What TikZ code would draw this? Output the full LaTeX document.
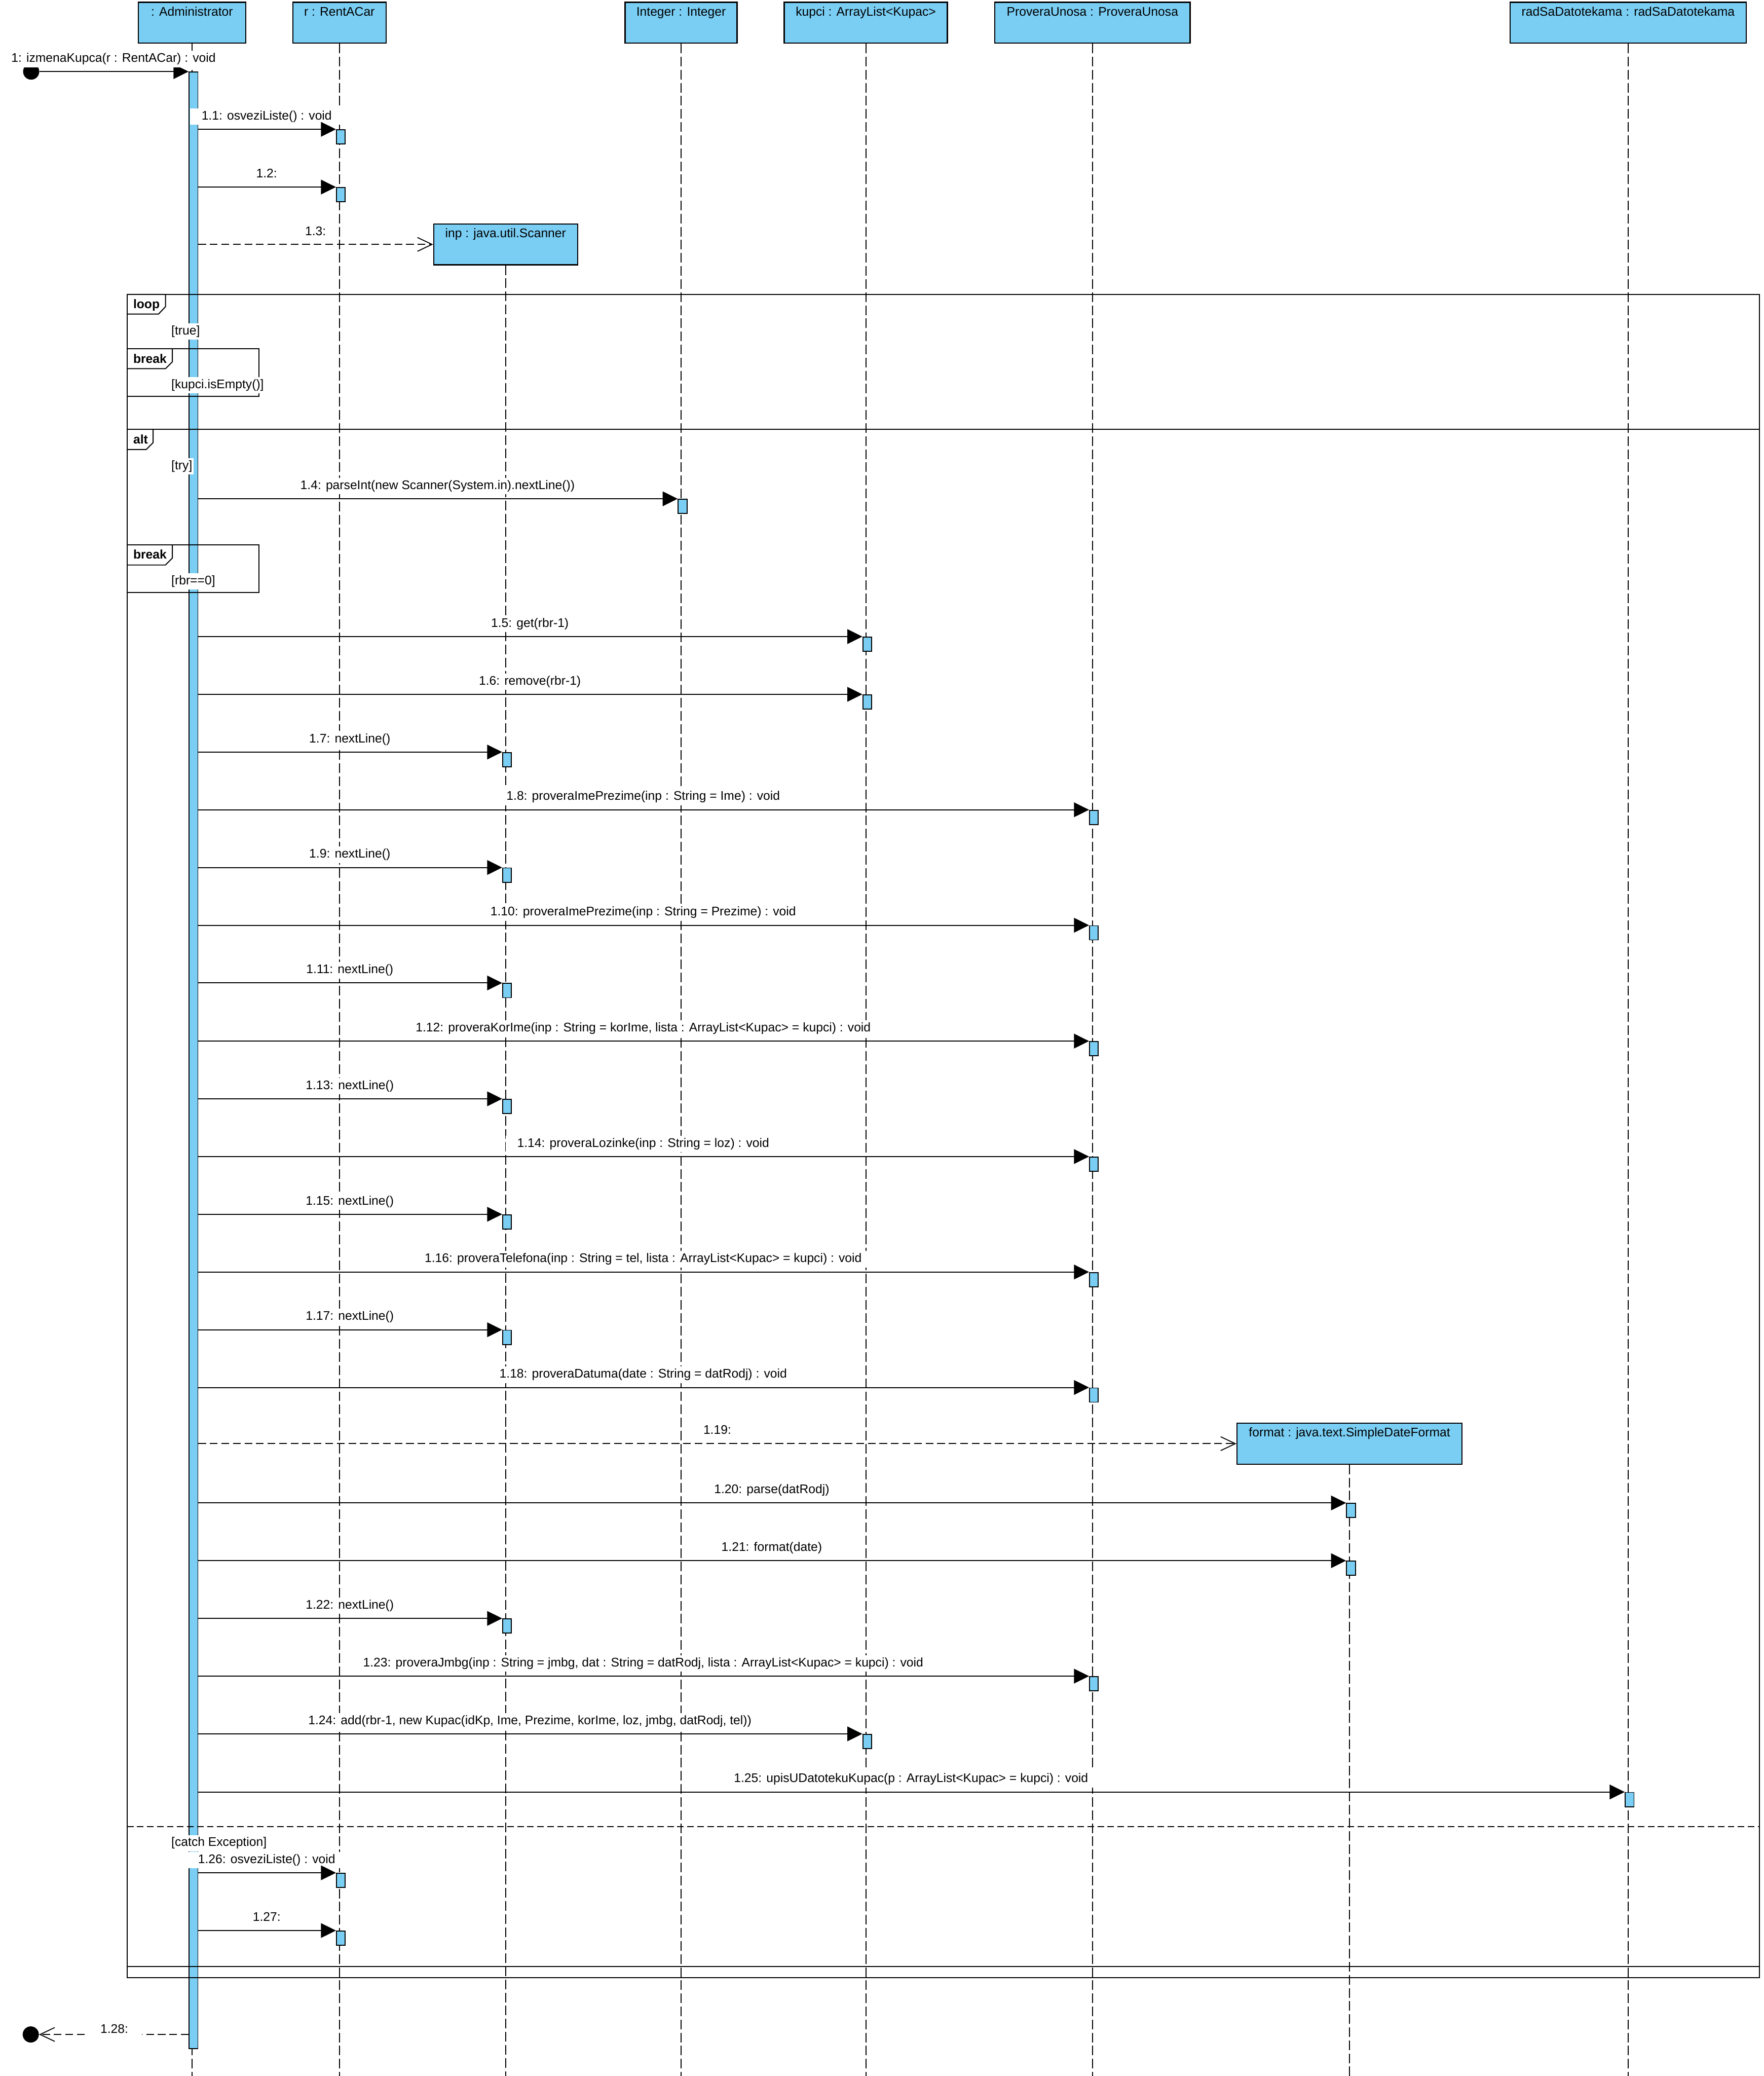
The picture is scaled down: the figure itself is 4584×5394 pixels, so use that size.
\documentclass[tikz,border=0pt]{standalone}
\usepackage{fontspec}
\setmainfont{Liberation Sans}
\usetikzlibrary{arrows.meta}
\definecolor{vpblue}{RGB}{122,206,244}
\tikzset{
  every node/.style={font=\fontsize{16.25pt}{19pt}\selectfont, text height=11.7pt, text depth=3.4pt},
  headbox/.style={draw, line width=1.5pt, fill=vpblue, minimum height=53pt, inner sep=0pt},
  headtxt/.style={anchor=base, inner sep=0pt},
  lifeline/.style={line width=1.3pt, dash pattern=on 12.5pt off 4.5pt},
  actbar/.style={draw, line width=1.2pt, fill=vpblue, minimum width=11.5pt, minimum height=18.5pt, inner sep=0pt, anchor=north west},
  frame/.style={line width=1.3pt},
  sepline/.style={line width=1.3pt, dash pattern=on 8.5pt off 4.5pt},
  msg/.style={line width=1.3pt, -{Triangle[length=19.5pt,width=19pt]}},
  dmsg/.style={line width=1.3pt, dash pattern=on 10pt off 5pt, -{Straight Barb[length=19pt,width=18pt,line width=1.2pt]}},
  mlabel/.style={fill=white, inner xsep=15pt, inner ysep=0pt, minimum height=21.5pt},
  guard/.style={fill=white, inner xsep=1.5pt, inner ysep=0pt, minimum height=21pt, anchor=west},
  tabtxt/.style={font=\fontsize{16.25pt}{19pt}\selectfont\bfseries, anchor=base west, inner sep=0pt},
  dot/.style={circle, fill=black, minimum size=21pt, inner sep=0pt},
}
% #1 name, #2 lifeline x, #3 y, #4 text
\newcommand\vpmsg[4]{%
  \node[actbar] (b#1) at (#2-9,#3) {};
  \node[mlabel] (l#1) at ({(504+#2)/2},#3-33) {#4};
  \draw[msg] (b#1.north west -| admB.east) -- (b#1.north west);
}
\begin{document}
\begin{tikzpicture}[x=0.5pt,y=-0.5pt]
\useasboundingbox (0,0) rectangle (4584,5394);
\coordinate (bot) at (0,5394);

% ---------- lifeline heads ----------
\node[headbox, minimum width=139.5pt] (adm)  at (499,59) {};
\node[headbox, minimum width=121pt]   (rent) at (882,59) {};
\node[headbox, minimum width=145.5pt] (intg) at (1770,59) {};
\node[headbox, minimum width=212pt]   (kup)  at (2250,59) {};
\node[headbox, minimum width=253.5pt] (prov) at (2839,59) {};
\node[headbox, minimum width=307pt]   (rad)  at (4231,59) {};
\node[headbox, minimum width=187pt]   (scan) at (1314,635) {};
\node[headbox, minimum width=292.5pt] (fmt)  at (3507,3751) {};

\node[headtxt] (admT)  at (499,41)  {: Administrator};
\node[headtxt] (rentT) at (882,41)  {r : RentACar};
\node[headtxt] (intgT) at (1770,41) {Integer : Integer};
\node[headtxt] (kupT)  at (2250,41) {kupci : ArrayList<Kupac>};
\node[headtxt] (provT) at (2839,41) {ProveraUnosa : ProveraUnosa};
\node[headtxt] (radT)  at (4231,41) {radSaDatotekama : radSaDatotekama};
\node[headtxt] (scanT) at (1314,617) {inp : java.util.Scanner};
\node[headtxt] (fmtT)  at (3507,3733) {format : java.text.SimpleDateFormat};

% ---------- lifelines ----------
\foreach \h in {adm,rent,intg,kup,prov,rad,scan,fmt}
  \draw[lifeline] (\h.south) -- (\h.south |- bot);

% ---------- main activation ----------
\node[actbar, minimum height=2568pt] (admB) at (490,186) {};

% ---------- combined fragments ----------
\draw[frame] (330,765) rectangle (4572,5139);
\draw[frame] (330,765) -- (430,765) -- (430,797) -- (412,816) -- (330,816);
\node[tabtxt] (tLoop) at (346,801) {loop};

\draw[frame] (330,906) rectangle (673,1030);
\draw[frame] (448,906) -- (448,940) -- (430,958) -- (330,958);
\node[tabtxt] (tBrk1) at (346,944) {break};

\draw[frame] (330,1116) rectangle (4572,5109);
\draw[frame] (398,1116) -- (398,1150) -- (380,1168) -- (330,1168);
\node[tabtxt] (tAlt) at (346,1153) {alt};

\draw[frame] (330,1416) rectangle (673,1539);
\draw[frame] (448,1416) -- (448,1450) -- (430,1468) -- (330,1468);
\node[tabtxt] (tBrk2) at (346,1452) {break};

\draw[sepline] (330,4746) -- (4572,4746);

\node[guard] (gTrue)  at (442,861)  {[true]};
\node[guard] (gEmpty) at (442,1001) {[kupci.isEmpty()]};
\node[guard] (gTry)   at (442,1212) {[try]};
\node[guard] (gRbr)   at (442,1511) {[rbr==0]};
\node[guard] (gCatch) at (442,4789) {[catch Exception]};

% ---------- found message ----------
\node[dot] (start) at (81,186) {};
\draw[msg] (start) -- (start -| admB.west);
\node[mlabel] (l1) at (295,153) {1: izmenaKupca(r : RentACar) : void};

% ---------- messages ----------
\vpmsg{11}{882}{336}{1.1: osveziListe() : void}
\vpmsg{12}{882}{486}{1.2:}

\node[mlabel] (l13) at (820,603) {1.3:};
\draw[dmsg] (scan.west -| admB.east) -- (scan.west);

\vpmsg{14}{1770}{1296}{1.4: parseInt(new Scanner(System.in).nextLine())}
\vpmsg{15}{2250}{1654}{1.5: get(rbr-1)}
\vpmsg{16}{2250}{1804}{1.6: remove(rbr-1)}
\vpmsg{17}{1314}{1954}{1.7: nextLine()}
\vpmsg{18}{2839}{2104}{1.8: proveraImePrezime(inp : String = Ime) : void}
\vpmsg{19}{1314}{2254}{1.9: nextLine()}
\vpmsg{110}{2839}{2404}{1.10: proveraImePrezime(inp : String = Prezime) : void}
\vpmsg{111}{1314}{2554}{1.11: nextLine()}
\vpmsg{112}{2839}{2705}{1.12: proveraKorIme(inp : String = korIme, lista : ArrayList<Kupac> = kupci) : void}
\vpmsg{113}{1314}{2855}{1.13: nextLine()}
\vpmsg{114}{2839}{3005}{1.14: proveraLozinke(inp : String = loz) : void}
\vpmsg{115}{1314}{3155}{1.15: nextLine()}
\vpmsg{116}{2839}{3305}{1.16: proveraTelefona(inp : String = tel, lista : ArrayList<Kupac> = kupci) : void}
\vpmsg{117}{1314}{3455}{1.17: nextLine()}
\vpmsg{118}{2839}{3605}{1.18: proveraDatuma(date : String = datRodj) : void}

\node[mlabel] (l119) at (1864,3718) {1.19:};
\draw[dmsg] (fmt.west -| admB.east) -- (fmt.west);

\vpmsg{120}{3507}{3905}{1.20: parse(datRodj)}
\vpmsg{121}{3507}{4055}{1.21: format(date)}
\vpmsg{122}{1314}{4205}{1.22: nextLine()}
\vpmsg{123}{2839}{4355}{1.23: proveraJmbg(inp : String = jmbg, dat : String = datRodj, lista : ArrayList<Kupac> = kupci) : void}
\vpmsg{124}{2250}{4505}{1.24: add(rbr-1, new Kupac(idKp, Ime, Prezime, korIme, loz, jmbg, datRodj, tel))}
\vpmsg{125}{4231}{4656}{1.25: upisUDatotekuKupac(p : ArrayList<Kupac> = kupci) : void}
\vpmsg{126}{882}{4866}{1.26: osveziListe() : void}
\vpmsg{127}{882}{5016}{1.27:}

% ---------- reply to caller ----------
\node[dot] (stop) at (80,5286) {};
\draw[dmsg] (stop -| admB.west) -- (stop);
\node[mlabel, minimum width=71.5pt] (l128) at (297,5274) {1.28:};
\end{tikzpicture}
\end{document}
